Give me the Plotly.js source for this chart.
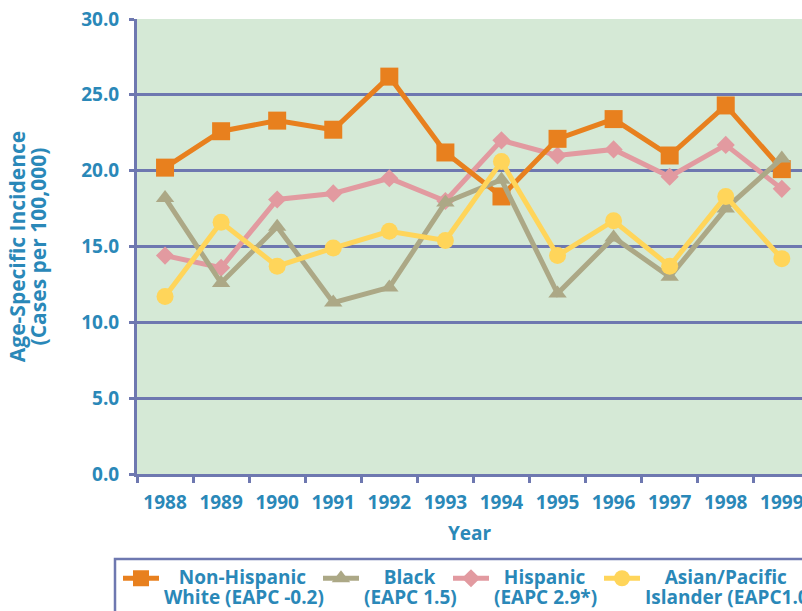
<!DOCTYPE html>
<html>
<head>
<meta charset="utf-8">
<script src="https://cdn.plot.ly/plotly-3.0.1.min.js"></script>
<style>html,body{margin:0;padding:0;background:#fff;}#chart{width:802px;height:611px;}</style>
</head>
<body>
<div id="chart"></div>
<script>
var years = ["1988","1989","1990","1991","1992","1993","1994","1995","1996","1997","1998","1999"];
var whiteVals = [20.2, 22.6, 23.3, 22.7, 26.2, 21.2, 18.3, 22.1, 23.4, 21.0, 24.3, 20.1];
var blackVals = [18.2, 12.6, 16.3, 11.3, 12.3, 17.9, 19.4, 11.9, 15.6, 13.0, 17.5, 20.8];
var hispanicVals = [14.4, 13.6, 18.1, 18.5, 19.5, 18.0, 22.0, 21.0, 21.4, 19.6, 21.7, 18.8];
var asianVals = [11.7, 16.6, 13.7, 14.9, 16.0, 15.4, 20.6, 14.4, 16.7, 13.7, 18.3, 14.2];
var yTickVals = [0, 5, 10, 15, 20, 25, 30];
var yTickText = ["0.0", "5.0", "10.0", "15.0", "20.0", "25.0", "30.0"];
var legendLines = {
  white: ["Non-Hispanic", "White (EAPC -0.2)"],
  black: ["Black", "(EAPC 1.5)"],
  hispanic: ["Hispanic", "(EAPC 2.9*)"],
  asian: ["Asian/Pacific", "Islander (EAPC1.0 )"]
};
var legendPad = {white: 3, black: 4, hispanic: 2, asian: 4};
var yTitleLines = ["Age-Specific Incidence", "(Cases per 100,000)"];

var NB = "\u00A0";
function big(s, px) { return '<span style="font-size:' + px + 'px">' + s + '</span>'; }
function legName(key) {
  var l = legendLines[key];
  return big(NB.repeat(legendPad[key]) + l[0], 19) + "<br>" + big(l[1], 19);
}

var blue = "#2a88b8";
var gridc = "#6e78b0";
var fontFam = "'Open Sans', 'Noto Sans', sans-serif";

function tr(vals, name, color, symbol, size, legendId) {
  return {
    x: years, y: vals, name: name, type: "scatter", mode: "lines+markers",
    line: {color: color, width: 5},
    marker: {color: color, symbol: symbol, size: size},
    legend: legendId
  };
}

var data = [
  tr(hispanicVals, legName("hispanic"), "#e29aa0", "diamond", 14, "legend3"),
  tr(whiteVals, legName("white"), "#e8801e", "square", 18, "legend"),
  tr(blackVals, legName("black"), "#aca886", "triangle-up", 16, "legend2"),
  tr(asianVals, legName("asian"), "#ffd55a", "circle", 17, "legend4")
];

function leg(xpx) {
  return {
    orientation: "h",
    xref: "container", yref: "container",
    x: xpx / 802, y: 1 - 562 / 611, xanchor: "left", yanchor: "top",
    bgcolor: "rgba(0,0,0,0)", borderwidth: 0,
    font: {family: fontFam, color: blue, size: 15, weight: 700},
    valign: "top",
    itemwidth: 36
  };
}

var layout = {
  width: 802, height: 611,
  margin: {l: 137, r: 0, t: 19, b: 137},
  paper_bgcolor: "#ffffff",
  plot_bgcolor: "#d5e9d6",
  font: {family: fontFam, color: blue, size: 19, weight: 700},
  showlegend: true,
  xaxis: {
    type: "category",
    range: [-0.5, 11.36],
    tickson: "boundaries",
    ticks: "outside", ticklen: 6, tickwidth: 3, tickcolor: gridc,
    showgrid: false, zeroline: false,
    showline: true, linecolor: gridc, linewidth: 3,
    tickfont: {family: fontFam, color: blue, size: 19, weight: 700},
    ticklabelstandoff: 9,
    title: {text: "Year", font: {family: fontFam, color: blue, size: 19, weight: 700}, standoff: 13},
    automargin: false,
    fixedrange: true
  },
  yaxis: {
    range: [0, 30],
    tickvals: yTickVals, ticktext: yTickText,
    ticks: "outside", ticklen: 5, tickwidth: 3, tickcolor: gridc,
    showgrid: true, gridcolor: gridc, gridwidth: 3,
    zeroline: false,
    showline: true, linecolor: gridc, linewidth: 3,
    tickfont: {family: fontFam, color: blue, size: 19, weight: 700},
    ticklabelstandoff: 6,
    title: {text: big(yTitleLines[0], 21) + "<br>" + big(yTitleLines[1], 21), font: {family: fontFam, color: blue, size: 16, weight: 700}, standoff: 31},
    automargin: false,
    fixedrange: true
  },
  legend: leg(118),
  legend2: leg(318),
  legend3: leg(448),
  legend4: leg(599),
  shapes: [{
    type: "rect", xref: "paper", yref: "paper",
    x0: (115 - 137) / 665, x1: 1.05, y0: -0.5, y1: (474 - 559) / 455,
    line: {color: gridc, width: 2.5}, fillcolor: "rgba(0,0,0,0)", layer: "above"
  }]
};

Plotly.newPlot("chart", data, layout, {displayModeBar: false, staticPlot: true});
</script>
</body>
</html>
